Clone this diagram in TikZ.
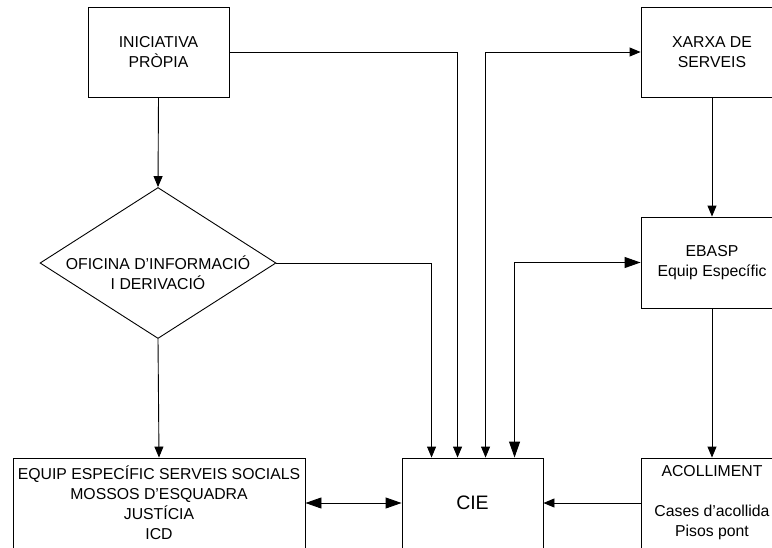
\documentclass[tikz,border=0pt]{standalone}
\usepackage{fontspec}
\setmainfont{Liberation Sans}
\usetikzlibrary{arrows.meta}
\usetikzlibrary{shapes.geometric}

\begin{document}
\begin{tikzpicture}[x=1pt,y=-1pt,line width=0.9pt,every node/.style={font=\fontsize{15.8}{20}\selectfont,align=center},box/.style={draw,minimum width=141pt,minimum height=90pt,inner sep=0pt},widebox/.style={box,minimum width=292pt},dia/.style={draw,diamond,shape aspect=1.563,minimum width=236pt,minimum height=151pt,inner sep=0pt},arr/.style={-{Triangle[length=11pt,width=9pt]}},arrboth/.style={{Triangle[length=11pt,width=9pt]}-{Triangle[length=11pt,width=9pt]}},bigarr/.style={{Triangle[length=16pt,width=11pt]}-{Triangle[length=16pt,width=11pt]}}]
	
	\useasboundingbox (0,0) rectangle (772,547);
	\clip (0,0) rectangle (772,547);
	
	\node[box] (ini) at (158.5,52) {INICIATIVA\\PRÒPIA};
	\node[dia] (ofi) at (158,263) {};
	\node (ofitext) at (158,273) {OFICINA D’INFORMACIÓ\\I DERIVACIÓ};
	\node[widebox] (equip) at (159,503) {EQUIP ESPECÍFIC SERVEIS SOCIALS\\MOSSOS D’ESQUADRA\\JUSTÍCIA\\ICD};
	\node[box,font=\fontsize{19.5}{24}\selectfont] (cie) at (472.5,503) {CIE};
	\node[box,minimum width=142pt] (xarxa) at (712,52) {XARXA DE\\SERVEIS};
	\node[box,minimum width=142pt,minimum height=91pt] (ebasp) at (712,262.5) {EBASP\\Equip Específic};
	\node[box,minimum width=142pt] (acoll) at (712,503) {ACOLLIMENT\\\mbox{}\\Cases d’acollida\\Pisos pont};
	
	\draw[arr] (ini.south) -- (ofi.north);
	\draw[arr] (ofi.south) -- (equip.north);
	\draw[arr] (ini.east) -| ([xshift=56pt]cie.north west);
	\draw[arr] (ofi.east) -| ([xshift=30pt]cie.north west);
	\draw[arrboth] (xarxa.west) -| ([xshift=84pt]cie.north west);
	\draw[bigarr] (ebasp.west) -| ([xshift=113pt]cie.north west);
	\draw[bigarr] (equip.east) -- (cie.west);
	\draw[arr] (acoll.west) -- (cie.east);
	\draw[arr] (xarxa.south) -- (ebasp.north);
	\draw[arr] (ebasp.south) -- (acoll.north);
	
\end{tikzpicture}
\end{document}
